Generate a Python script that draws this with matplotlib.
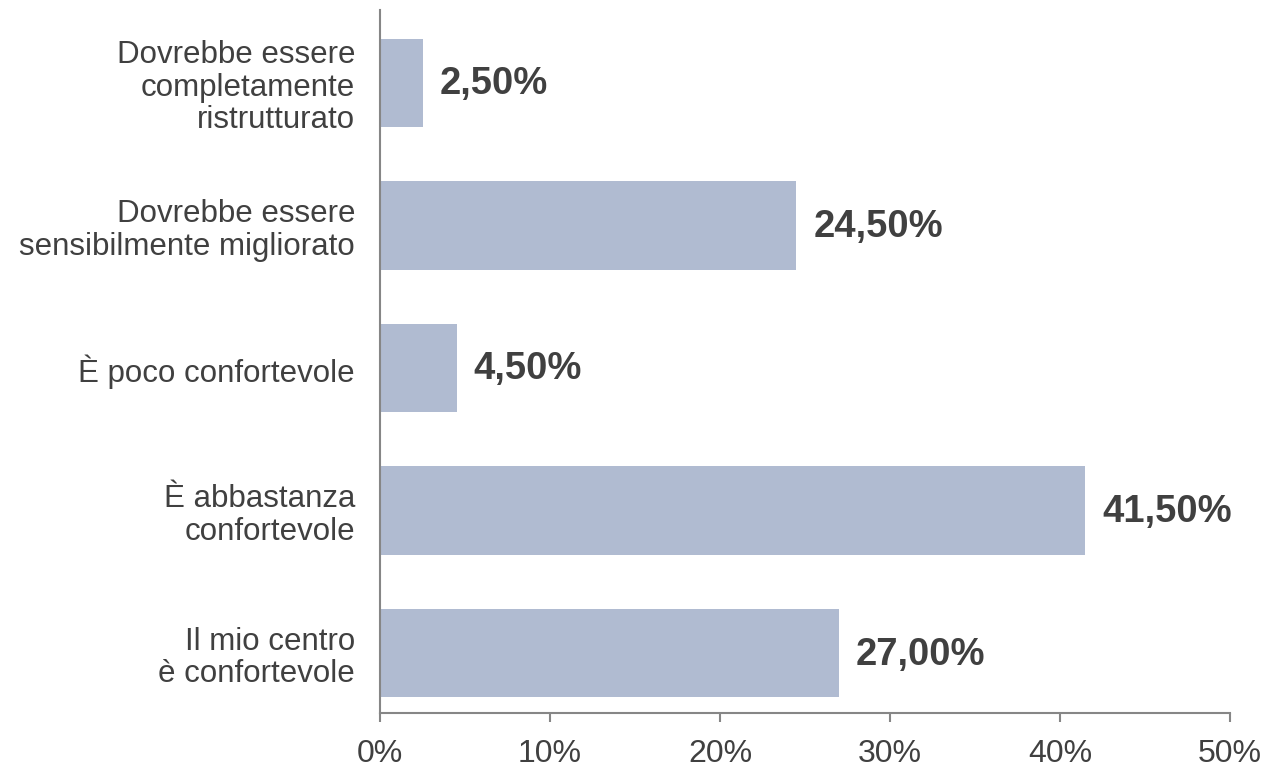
import matplotlib.pyplot as plt
from matplotlib.ticker import FuncFormatter

# categories from bottom to top
categories = [
    "Il mio centro\nè confortevole",
    "È abbastanza\nconfortevole",
    "È poco confortevole",
    "Dovrebbe essere\nsensibilmente migliorato",
    "Dovrebbe essere\ncompletamente\nristrutturato",
]
values = [27.0, 41.5, 4.5, 24.5, 2.5]
xticks = [0, 10, 20, 30, 40, 50]

bar_color = '#b0bbd1'
text_color = '#404040'
axis_color = '#868686'

plt.rcParams['font.family'] = ['Liberation Sans', 'DejaVu Sans']

fig = plt.figure(figsize=(12.68, 7.75), dpi=100)
ax = fig.add_axes([0.2997, 0.08, 0.6703, 0.907])

pos = list(range(len(categories)))
ax.barh(pos, values, height=0.62, color=bar_color)

for p, v in zip(pos, values):
    label = f"{v:.2f}".replace('.', ',') + '%'
    ax.annotate(label, (v, p), xytext=(12, -1), textcoords='offset points',
                ha='left', va='center', fontsize=27.5, fontweight='bold',
                color=text_color)

ax.set_xlim(0, 50)
ax.set_ylim(-0.42, 4.51)
ax.set_xticks(xticks)
ax.xaxis.set_major_formatter(FuncFormatter(lambda x, _: f"{x:.0f}%"))
ax.set_yticks(pos)
ax.set_yticklabels(categories, linespacing=1.12)

for s in ['top', 'right']:
    ax.spines[s].set_visible(False)
for s in ['left', 'bottom']:
    ax.spines[s].set_color(axis_color)
    ax.spines[s].set_linewidth(1.5)

ax.tick_params(axis='x', direction='out', length=6.5, width=1.5, color=axis_color,
               labelsize=23, labelcolor=text_color, pad=12)
ax.tick_params(axis='y', length=0, labelsize=22.5, labelcolor=text_color, pad=18)

fig.savefig('out.png', dpi=100)
